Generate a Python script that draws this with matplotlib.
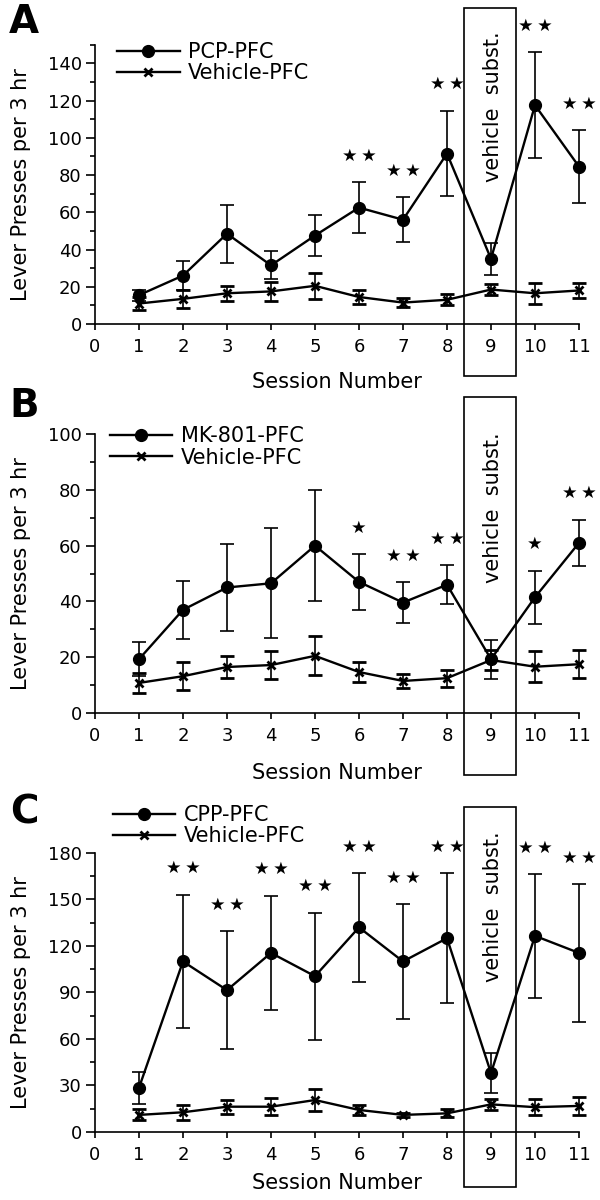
import numpy as np
import matplotlib
matplotlib.use("Agg")
import matplotlib.pyplot as plt
import matplotlib.transforms as mtransforms
from matplotlib.patches import Rectangle
from matplotlib.lines import Line2D
from matplotlib.ticker import MultipleLocator

# session numbers (x axis)
sessions = np.arange(1, 12)

# panel A - PCP
pcp_mean = [15.5, 26, 48.5, 31.5, 47.5, 62.5, 56, 91.5, 35, 117.5, 84.5]
pcp_err = [3, 8, 15.5, 7.5, 11, 13.5, 12, 23, 8.5, 28.5, 19.5]
veh_a_mean = [11, 13.5, 16.5, 17.5, 20.5, 14.5, 11.5, 13, 18.5, 16.5, 18]
veh_a_err = [3.5, 5, 4, 5, 7, 3.5, 2.5, 3, 3, 5.5, 4]
stars_a_x = [6, 7, 8, 10, 11]
stars_a = [2, 2, 2, 2, 2]

# panel B - MK-801
mk_mean = [19.3, 37, 45, 46.5, 60, 47, 39.6, 46, 19.3, 41.5, 61]
mk_err = [6, 10.5, 15.5, 19.7, 19.8, 10, 7.3, 7, 7, 9.5, 8.3]
veh_b_mean = [10.8, 13.2, 16.5, 17.2, 20.5, 14.7, 11.5, 12.5, 19, 16.6, 17.5]
veh_b_err = [3.5, 5, 4, 5, 7, 3.7, 2.5, 3, 3.5, 5.5, 5]
stars_b_x = [6, 7, 8, 10, 11]
stars_b = [1, 2, 2, 1, 2]

# panel C - CPP
cpp_mean = [28.5, 110, 91.5, 115.5, 100.5, 132, 110, 125, 38, 126.5, 115.5]
cpp_err = [10.5, 43, 38, 37, 41, 35, 37, 42, 13, 40, 44.5]
veh_c_mean = [11, 12.7, 16.3, 16.3, 20.6, 14.2, 11, 12, 17.8, 16, 16.8]
veh_c_err = [3.5, 5, 4.5, 5.5, 7, 3.5, 1.5, 2.5, 3.5, 5.3, 6]
stars_c_x = [2, 3, 4, 5, 6, 7, 8, 10, 11]
stars_c = [2] * 9

plt.rcParams['font.family'] = ['DejaVu Sans']

fig = plt.figure(figsize=(6, 12), dpi=100)
fig.patch.set_facecolor('white')


def panel(rect, letter, letter_y, mean, err, label, vmean, verr, sx, nstars,
          ytop, major, minor, leg_xy, box_y, text_y, xlab_y):
    ax = fig.add_axes(rect)
    for s in ['top', 'right']:
        ax.spines[s].set_visible(False)
    for s in ['left', 'bottom']:
        ax.spines[s].set_linewidth(1.2)

    eb1 = ax.errorbar(sessions, mean, yerr=err, fmt='-o', color='k', ms=8.5,
                      lw=1.7, elinewidth=1.2, capsize=5, capthick=1.2)
    eb2 = ax.errorbar(sessions, vmean, yerr=verr, fmt='-x', color='k', ms=6,
                      mew=2, lw=1.7, elinewidth=1.2, capsize=5, capthick=1.2)
    for eb in (eb1, eb2):
        for art in eb.get_children():
            art.set_clip_on(False)

    ax.set_xlim(0, 11)
    ax.set_ylim(0, ytop)
    ax.set_xticks(range(0, 12))
    ax.yaxis.set_major_locator(MultipleLocator(major))
    ax.yaxis.set_minor_locator(MultipleLocator(minor))
    ax.tick_params(axis='y', which='major', length=6.5, width=1.2, pad=3,
                   labelsize=13)
    ax.tick_params(axis='y', which='minor', length=3.5, width=1.2)
    ax.tick_params(axis='x', length=4, width=1.2, pad=6, labelsize=13)

    ax.set_ylabel('Lever Presses per 3 hr', fontsize=15, va='center')
    ax.yaxis.set_label_coords(-0.153, 0.5)
    ax.set_xlabel('Session Number', fontsize=15, va='center')
    ax.xaxis.set_label_coords(0.5, xlab_y)

    # significance stars
    for x, n in zip(sx, nstars):
        top = mean[x - 1] + err[x - 1]
        ax.annotate('\u2009'.join(['\u2605'] * n), (x, top), xytext=(0, 19),
                    textcoords='offset points', ha='center', va='center',
                    fontsize=12.5)

    # vehicle substitution box
    trans = mtransforms.blended_transform_factory(ax.transData, ax.transAxes)
    ax.add_patch(Rectangle((8.38, box_y[0]), 1.19, box_y[1] - box_y[0],
                           transform=trans, fill=False, lw=1.2, ec='k',
                           clip_on=False))
    ax.text(9.05, text_y, 'vehicle  subst.', transform=trans, rotation=90,
            ha='center', va='center', fontsize=15)

    handles = [Line2D([], [], color='k', lw=1.7, marker='o', ms=8.5),
               Line2D([], [], color='k', lw=1.7, marker='x', ms=6, mew=2)]
    ax.legend(handles, [label, 'Vehicle-PFC'], loc='center left',
              bbox_to_anchor=leg_xy, bbox_transform=fig.transFigure,
              frameon=False, fontsize=15, handlelength=3.0,
              handletextpad=0.4, labelspacing=0.05, borderpad=0,
              borderaxespad=0)

    fig.text(0.04, letter_y, letter, fontsize=28, fontweight='bold',
             ha='center', va='center')
    return ax


left, width = 0.1583, 0.8067
panel([left, 0.730, width, 0.2328], 'A', 1 - 22 / 1200, pcp_mean, pcp_err,
      'PCP-PFC', veh_a_mean, veh_a_err, stars_a_x, stars_a, 150, 20, 10,
      (0.195, 0.9479), (-0.186, 1.131), 0.777, -0.2077)
panel([left, 0.4058, width, 0.2325], 'B', 1 - 406 / 1200, mk_mean, mk_err,
      'MK-801-PFC', veh_b_mean, veh_b_err, stars_b_x, stars_b, 100, 20, 10,
      (0.183, 0.6275), (-0.222, 1.133), 0.736, -0.215)
panel([left, 0.0567, width, 0.2325], 'C', 1 - 812 / 1200, cpp_mean, cpp_err,
      'CPP-PFC', veh_c_mean, veh_c_err, stars_c_x, stars_c, 180, 30, 15,
      (0.188, 0.3117), (-0.197, 1.165), 0.806, -0.183)

fig.savefig('out.png', dpi=100)
